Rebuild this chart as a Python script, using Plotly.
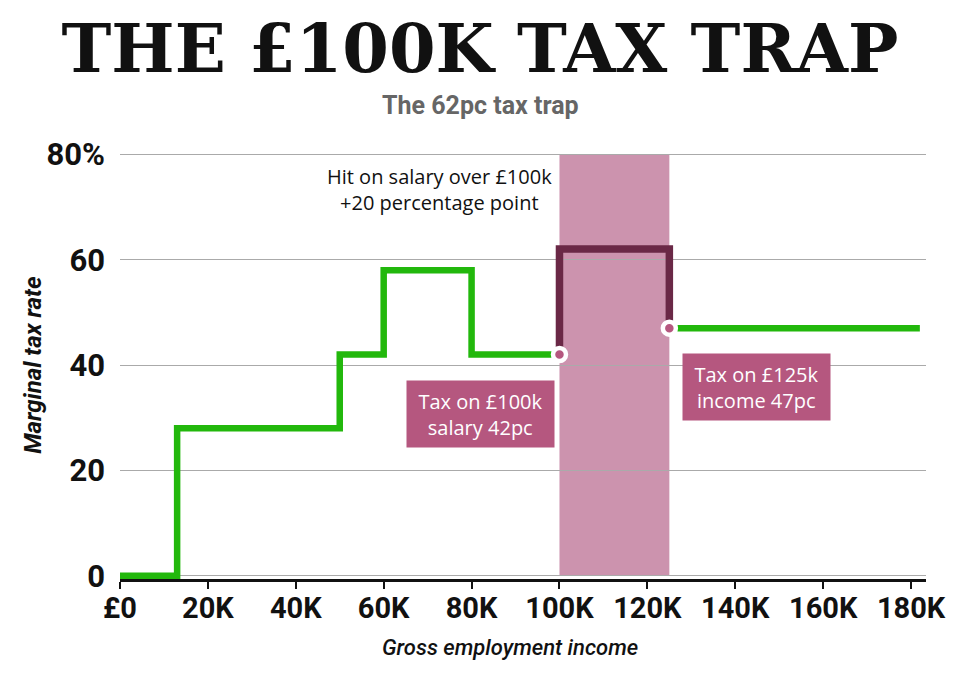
import plotly.graph_objects as go

# income in £ thousands, marginal rate in %
green_income = [0, 13, 50, 60, 80, 100]
green_rate = [0, 28, 42, 58, 42, 42]
trap_income = [100, 100, 125]
trap_rate = [42, 62, 47]
upper_income = [125, 182]
upper_rate = [47, 47]
point_income = [100, 125]
point_rate = [42, 47]
band = [100, 125]

x_ticks = [0, 20, 40, 60, 80, 100, 120, 140, 160, 180]
x_labels = ['£0', '20K', '40K', '60K', '80K', '100K', '120K', '140K', '160K', '180K']
y_ticks = [0, 20, 40, 60, 80]
y_labels = ['0', '20', '40', '60', '80%']

GREEN = '#22b80c'
DARK = '#6a2846'
PINK = '#b5577f'
BAND = '#cc93ae'
TICKFONT = 'Roboto, sans-serif'

fig = go.Figure()
fig.add_trace(go.Scatter(x=green_income, y=green_rate, mode='lines', line_shape='hv',
                         line=dict(color=GREEN, width=6.5), hoverinfo='skip'))
fig.add_trace(go.Scatter(x=trap_income, y=trap_rate, mode='lines', line_shape='hv',
                         line=dict(color=DARK, width=7.5), hoverinfo='skip'))
fig.add_trace(go.Scatter(x=upper_income, y=upper_rate, mode='lines',
                         line=dict(color=GREEN, width=6.5), hoverinfo='skip'))
fig.add_trace(go.Scatter(x=point_income, y=point_rate, mode='markers',
                         marker=dict(color=PINK, size=13, line=dict(color='white', width=4.5)),
                         hoverinfo='skip'))

fig.add_shape(type='rect', xref='x', yref='y', x0=band[0], x1=band[1], y0=0, y1=80,
              fillcolor=BAND, line_width=0, layer='below')

fig.add_annotation(x=72.7, y=73.4, xref='x', yref='y', showarrow=False,
                   xanchor='center', yanchor='middle',
                   text='Hit on salary over £100k<br>+20 percentage point',
                   font=dict(family='Open Sans, sans-serif', size=20, color='#111'))
fig.add_annotation(x=82.1, y=30.8, xref='x', yref='y', showarrow=False,
                   xanchor='center', yanchor='middle',
                   text='Tax on £100k<br>salary 42pc', bgcolor=PINK, width=147, height=66,
                   borderpad=0, font=dict(family='Open Sans, sans-serif', size=20, color='white'))
fig.add_annotation(x=144.8, y=35.8, xref='x', yref='y', showarrow=False,
                   xanchor='center', yanchor='middle',
                   text='Tax on £125k<br>income 47pc', bgcolor=PINK, width=147, height=66,
                   borderpad=0, font=dict(family='Open Sans, sans-serif', size=20, color='white'))

# subtitle and axis titles
fig.add_annotation(x=0.4467, y=1.102, xref='paper', yref='paper', showarrow=False,
                   xanchor='center', yanchor='middle',
                   text='<b>The 62pc tax trap</b>',
                   font=dict(family=TICKFONT, size=25, color='#666'))
fig.add_annotation(x=-0.108, y=0.498, xref='paper', yref='paper', showarrow=False, textangle=-90,
                   xanchor='center', yanchor='middle',
                   text='<b><i>Marginal tax rate</i></b>',
                   font=dict(family='Roboto, sans-serif', size=24, color='#111'))
fig.add_annotation(x=0.484, y=-0.160, xref='paper', yref='paper', showarrow=False,
                   xanchor='center', yanchor='middle',
                   text='<i>Gross employment income</i>',
                   font=dict(family='Roboto, sans-serif', size=22, color='#111', weight=500))

fig.update_layout(
    width=960, height=676,
    margin=dict(l=120, r=34, t=149, b=97, autoexpand=False),
    paper_bgcolor='white', plot_bgcolor='white',
    showlegend=False,
    title=dict(text='<b>THE £100K TAX TRAP</b>', x=0.5, xref='container', y=0.9275,
               yref='container', xanchor='center', yanchor='middle',
               font=dict(family='DejaVu Serif', size=67, color='#111')),
)
fig.update_xaxes(range=[0, 183.4], tickvals=x_ticks, ticktext=x_labels, automargin=False,
                 showgrid=False, zeroline=False, showline=True, linecolor='#111', linewidth=3,
                 ticks='outside', ticklen=7, tickwidth=2, tickcolor='#111',
                 layer='above traces', ticklabelstandoff=-6,
                 tickfont=dict(family=TICKFONT, size=29, color='#111', weight='bold'))
fig.update_yaxes(range=[-0.6, 81], tickvals=y_ticks, ticktext=y_labels, automargin=False,
                 showgrid=True, gridcolor='#aaaaaa', gridwidth=1, zeroline=False,
                 showline=False, ticks='', ticklabelstandoff=14,
                 tickfont=dict(family=TICKFONT, size=31, color='#111', weight='bold'))

fig.write_html('out.html', config={'displayModeBar': False},
               post_script="document.body.style.margin='0';")
